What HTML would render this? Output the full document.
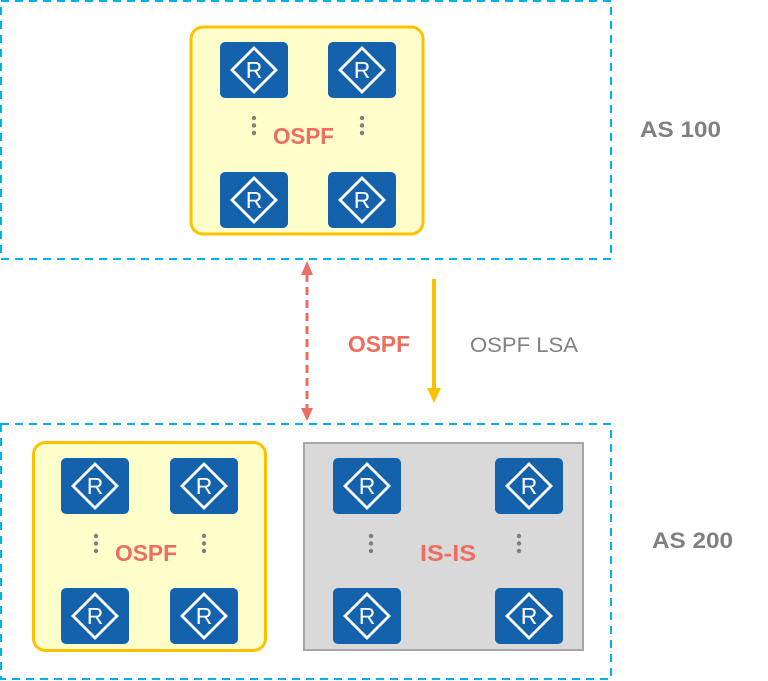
<!DOCTYPE html>
<html><head><meta charset="utf-8"><style>html,body{margin:0;padding:0;background:#fff}svg{display:block}</style></head><body>
<svg width="768" height="681" viewBox="0 0 768 681" xmlns="http://www.w3.org/2000/svg" font-family="Liberation Sans, sans-serif">
<defs>
<g id="r">
<rect x="0" y="0" width="68" height="56" rx="5" fill="#1462AB"/>
<polygon points="34,6 56,28 34,50 12,28" fill="none" stroke="#fff" stroke-width="2.8"/>
</g>
</defs>
<rect x="1" y="1" width="610" height="258" fill="none" stroke="#00B0F0" stroke-width="2" stroke-dasharray="8,6"/>
<rect x="1" y="424" width="610" height="255" fill="none" stroke="#00B0F0" stroke-width="2" stroke-dasharray="8,6"/>
<rect x="191" y="27" width="232" height="207" rx="12" fill="#FFFFCC" stroke="#FFC000" stroke-width="3"/>
<rect x="33.5" y="442.5" width="232" height="208" rx="12" fill="#FFFFCC" stroke="#FFC000" stroke-width="3"/>
<rect x="304" y="443" width="279" height="207" fill="#D9D9D9" stroke="#A6A6A6" stroke-width="2"/>
<g font-size="23" fill="#fff" text-anchor="middle">
<use href="#r" x="220" y="42"/><text x="254" y="78">R</text>
<use href="#r" x="328" y="42"/><text x="362" y="78">R</text>
<use href="#r" x="220" y="172"/><text x="254" y="208">R</text>
<use href="#r" x="328" y="172"/><text x="362" y="208">R</text>
<use href="#r" x="61" y="458"/><text x="95" y="494">R</text>
<use href="#r" x="170" y="458"/><text x="204" y="494">R</text>
<use href="#r" x="61" y="588"/><text x="95" y="624">R</text>
<use href="#r" x="170" y="588"/><text x="204" y="624">R</text>
<use href="#r" x="333" y="458"/><text x="367" y="494">R</text>
<use href="#r" x="495" y="458"/><text x="529" y="494">R</text>
<use href="#r" x="333" y="588"/><text x="367" y="624">R</text>
<use href="#r" x="495" y="588"/><text x="529" y="624">R</text>
</g>
<g fill="#7F7F7F">
<circle cx="254" cy="118" r="2.2"/><circle cx="254" cy="125.5" r="2.2"/><circle cx="254" cy="133" r="2.2"/>
<circle cx="362" cy="118" r="2.2"/><circle cx="362" cy="125.5" r="2.2"/><circle cx="362" cy="133" r="2.2"/>
<circle cx="96" cy="536" r="2.2"/><circle cx="96" cy="543.5" r="2.2"/><circle cx="96" cy="551" r="2.2"/>
<circle cx="204" cy="536" r="2.2"/><circle cx="204" cy="543.5" r="2.2"/><circle cx="204" cy="551" r="2.2"/>
<circle cx="371" cy="536" r="2.2"/><circle cx="371" cy="543.5" r="2.2"/><circle cx="371" cy="551" r="2.2"/>
<circle cx="519" cy="536" r="2.2"/><circle cx="519" cy="543.5" r="2.2"/><circle cx="519" cy="551" r="2.2"/>
</g>
<g font-weight="bold" fill="#EE6C60" font-size="23">
<text x="273" y="144" textLength="61" lengthAdjust="spacingAndGlyphs">OSPF</text>
<text x="115" y="561" textLength="62" lengthAdjust="spacingAndGlyphs">OSPF</text>
<text x="420" y="561" textLength="56" lengthAdjust="spacingAndGlyphs">IS-IS</text>
<text x="348" y="352" textLength="62" lengthAdjust="spacingAndGlyphs">OSPF</text>
</g>
<g font-weight="bold" fill="#808080" font-size="22">
<text x="640" y="137" textLength="81" lengthAdjust="spacingAndGlyphs">AS 100</text>
<text x="652" y="548" textLength="81" lengthAdjust="spacingAndGlyphs">AS 200</text>
</g>
<text x="470" y="352" font-size="21" fill="#808080" textLength="108" lengthAdjust="spacingAndGlyphs">OSPF LSA</text>
<line x1="307" y1="274" x2="307" y2="410" stroke="#EE6C60" stroke-width="3" stroke-dasharray="8,5"/>
<polygon points="301,275 313,275 307,261" fill="#EE6C60"/>
<polygon points="301,408 313,408 307,421" fill="#EE6C60"/>
<line x1="434" y1="279" x2="434" y2="390" stroke="#FFC000" stroke-width="4"/>
<polygon points="427,388 441,388 434,403" fill="#FFC000"/>
</svg>
</body></html>
